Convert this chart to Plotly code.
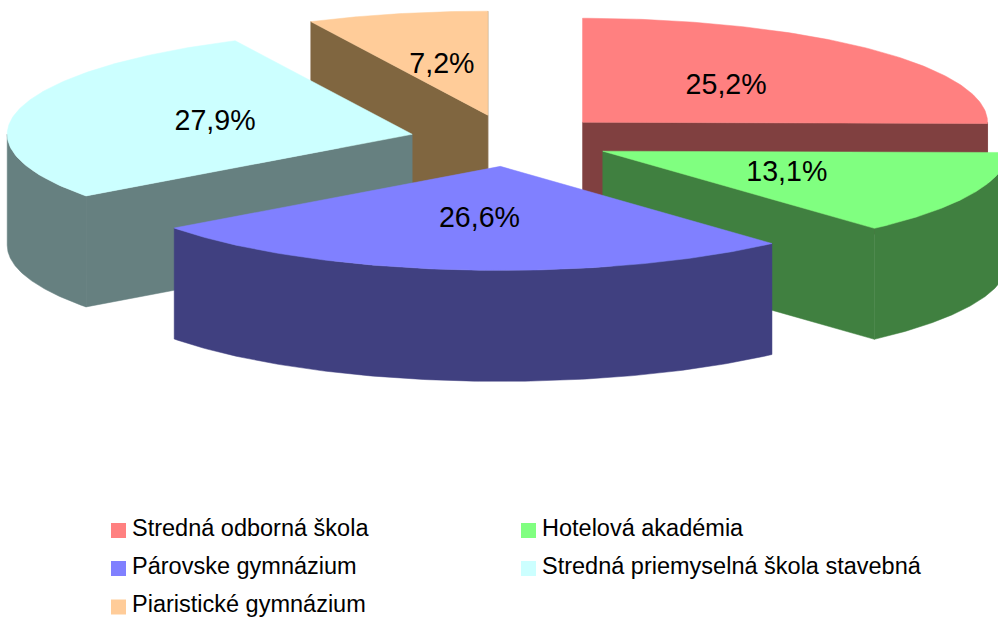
import numpy as np
import plotly.graph_objects as go

categories = ["Stredná odborná škola", "Hotelová akadémia", "Párovske gymnázium",
              "Stredná priemyselná škola stavebná", "Piaristické gymnázium"]
shares = [25.2, 13.1, 26.6, 27.9, 7.2]
top_colors = ["#FF8080", "#80FF80", "#8080FF", "#CCFFFF", "#FFCC99"]
side_colors = ["#804040", "#408040", "#404080", "#668080", "#806640"]
draw_order = [4, 0, 3, 1, 2]

W, H = 998, 617
CX, CY = 510.5, 140.5
RX, RY = 405.0, 104.0
DEPTH = 111.0
EXPLODE = 0.25
FONT = "Liberation Sans"

fig = go.Figure()


def poly(xs, ys, color):
    fig.add_trace(go.Scatter(x=list(xs), y=list(ys), mode="lines", fill="toself", fillcolor=color,
                             line=dict(color=color, width=0.5), hoverinfo="skip", showlegend=False))


edges = np.concatenate([[0.0], np.cumsum(shares)]) / 100.0 * 2 * np.pi
label_x, label_y, label_text = [], [], []
apexes = {}
for i, v in enumerate(shares):
    mid = (edges[i] + edges[i + 1]) / 2
    ax = CX + EXPLODE * RX * np.sin(mid)
    ay = CY - EXPLODE * RY * np.cos(mid)
    apexes[i] = (ax, ay)
    label_x.append(ax + 0.5 * RX * np.sin(mid) - 0.5)
    label_y.append(ay - 0.5 * RY * np.cos(mid) + 1.5)
    label_text.append(f"{v:.1f}%".replace(".", ","))

for i in draw_order:
    ax, ay = apexes[i]
    t = np.linspace(edges[i], edges[i + 1], 120)
    ex = ax + RX * np.sin(t)
    ey = ay - RY * np.cos(t)
    # radial cut faces: only those turned towards the viewer
    if np.sin(t[0]) < 0:
        poly([ax, ex[0], ex[0], ax, ax], [ay, ey[0], ey[0] + DEPTH, ay + DEPTH, ay], side_colors[i])
    if np.sin(t[-1]) > 0:
        poly([ax, ex[-1], ex[-1], ax, ax], [ay, ey[-1], ey[-1] + DEPTH, ay + DEPTH, ay], side_colors[i])
    # outer rim, only its front-facing part
    lo, hi = max(edges[i], np.pi / 2), min(edges[i + 1], 3 * np.pi / 2)
    if hi > lo:
        r = np.linspace(lo, hi, 120)
        rx = ax + RX * np.sin(r)
        ry = ay - RY * np.cos(r)
        poly(np.r_[rx, rx[::-1], rx[0]], np.r_[ry, ry[::-1] + DEPTH, ry[0]], side_colors[i])
    # top face
    poly(np.r_[ax, ex, ax], np.r_[ay, ey, ay], top_colors[i])

fig.add_trace(go.Scatter(x=label_x, y=label_y, mode="text", text=label_text, textposition="middle center",
                         textfont=dict(family=FONT, size=28.6, color="#000000"), hoverinfo="skip", showlegend=False))

# legend, two columns filled row by row
col_x = [111, 521]
row_y = [530.5, 568.5, 607]
for i, name in enumerate(categories):
    lx, ly = col_x[i % 2], row_y[i // 2]
    fig.add_trace(go.Scatter(x=[lx + 7.5], y=[ly], mode="markers",
                             marker=dict(symbol="square", size=15, color=top_colors[i], line=dict(width=0)),
                             hoverinfo="skip", showlegend=False))
    fig.add_trace(go.Scatter(x=[lx + 21], y=[ly - 0.5], mode="text", text=[name], textposition="middle right",
                             textfont=dict(family=FONT, size=23.5, color="#000000"),
                             hoverinfo="skip", showlegend=False))

fig.update_layout(width=W, height=H, autosize=False, margin=dict(l=0, r=0, t=0, b=0),
                  paper_bgcolor="white", plot_bgcolor="white", showlegend=False,
                  xaxis=dict(range=[0, W], visible=False, fixedrange=True),
                  yaxis=dict(range=[H, 0], visible=False, fixedrange=True))
fig.write_html("out.html", config={"displayModeBar": False},
               post_script="document.body.style.margin='0';document.documentElement.style.overflow='hidden';")
